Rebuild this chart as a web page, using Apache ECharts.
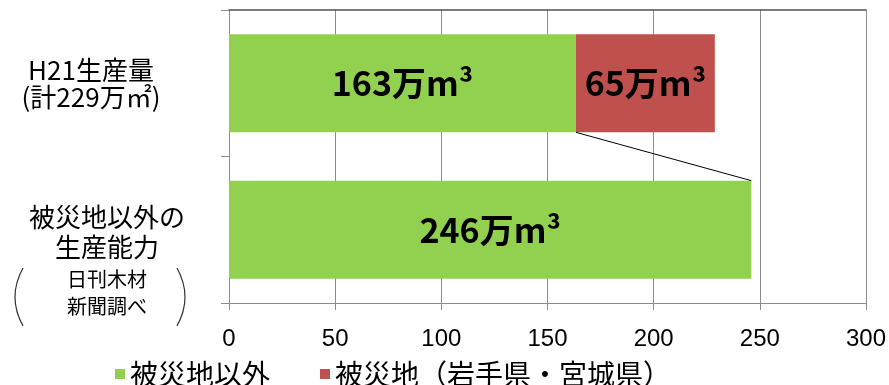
<!DOCTYPE html>
<html>
<head>
<meta charset="utf-8">
<script src="https://cdn.jsdelivr.net/npm/echarts@6/dist/echarts.min.js"></script>
<style>
  html, body { margin: 0; padding: 0; background: #fff; }
  #main { width: 889px; height: 385px; }
</style>
</head>
<body>
<div id="main"></div>
<script type="text/javascript">
	// データ
	var categories = ['H21生産量\n(計229万㎡)', '被災地以外の\n生産能力'];
	var noteLines = ['日刊木材', '新聞調べ'];
	var otherArea = [163.4, 246];     // 被災地以外
	var disasterArea = [65.4, '-'];   // 被災地（岩手県・宮城県）
	var seriesNames = ['被災地以外', '被災地（岩手県・宮城県）'];
	// 被災地以外の端 → 下の棒の端を結ぶ線
	var connector = [[163.4, 0, 246, 1]];
	var xTicks = [0, 50, 100, 150, 200, 250, 300];

	var CJK = '"Noto Sans CJK JP", sans-serif';
	var gapRatio = 0.33;

	var myChart = echarts.init(document.getElementById('main'));

	function barLabel(p) {
		return Math.round(p.value) + '万m³';
	}

	myChart.setOption({
		animation: false,
		grid: { left: 229, right: 23, top: 10, bottom: 82, containLabel: false, outerBoundsMode: 'none' },
		legend: {
			data: seriesNames,
			left: 110,
			top: 355,
			icon: 'rect',
			itemWidth: 10,
			itemHeight: 10,
			itemGap: 50,
			textStyle: { fontFamily: CJK, fontSize: 28, color: '#000' }
		},
		xAxis: [{
			type: 'value',
			min: xTicks[0],
			max: xTicks[xTicks.length - 1],
			interval: 50,
			axisLine: { show: true, lineStyle: { color: '#8c8c8c' } },
			axisTick: { show: true, length: 7, lineStyle: { color: '#8c8c8c' } },
			axisLabel: { fontFamily: 'Liberation Sans', fontSize: 24, color: '#000', margin: 24 },
			splitLine: { show: true, lineStyle: { color: '#8c8c8c', width: 1 } }
		}, {
			// 上枠
			type: 'value',
			position: 'top',
			min: xTicks[0],
			max: xTicks[xTicks.length - 1],
			axisLine: { show: true, lineStyle: { color: '#505050', width: 1.5 } },
			axisTick: { show: false },
			axisLabel: { show: false },
			splitLine: { show: false }
		}],
		yAxis: {
			type: 'category',
			inverse: true,
			data: [
				{ value: categories[0], textStyle: { padding: [0, 16, 0, 0] } },
				{ value: categories[1], textStyle: { padding: [59, 0, 0, 0] } }
			],
			axisLine: { show: true, lineStyle: { color: '#8c8c8c' } },
			axisTick: { show: true, length: 8, lineStyle: { color: '#8c8c8c' } },
			axisLabel: {
				align: 'right',
				margin: 22,
				formatter: function (value, index) {
					var lines = value.split('\n');
					if (index === 0) {
						return lines.map(function (l) { return '{a|' + l + '}'; }).join('\n');
					}
					var out = lines.map(function (l) { return '{b|' + l + '}'; });
					out.push('{s1|' + noteLines[0] + '}');
					out.push('{s2|' + noteLines[1] + '}');
					return out.join('\n');
				},
				rich: {
					a: { fontFamily: CJK, fontSize: 26, lineHeight: 27, color: '#000', width: 200, align: 'center' },
					b: { fontFamily: CJK, fontSize: 26, lineHeight: 30, color: '#000', width: 200, align: 'center' },
					s1: { fontFamily: CJK, fontSize: 20, lineHeight: 34, color: '#000', width: 200, align: 'center' },
					s2: { fontFamily: CJK, fontSize: 20, lineHeight: 20, color: '#000', width: 200, align: 'center' }
				}
			}
		},
		graphic: [
			{ type: 'bezierCurve', shape: { x1: 23, y1: 268, x2: 23, y2: 326, cpx1: 7, cpy1: 297 },
			  style: { stroke: '#333', lineWidth: 1.2, fill: null } },
			{ type: 'bezierCurve', shape: { x1: 177, y1: 268, x2: 177, y2: 326, cpx1: 193, cpy1: 297 },
			  style: { stroke: '#333', lineWidth: 1.2, fill: null } }
		],
		series: [{
			name: seriesNames[0],
			type: 'bar',
			stack: 'total',
			barCategoryGap: (gapRatio * 100) + '%',
			itemStyle: { color: '#92d050' },
			label: {
				show: true,
				position: 'inside',
				formatter: barLabel,
				fontFamily: CJK,
				fontWeight: 'bold',
				fontSize: 34,
				color: '#000'
			},
			data: otherArea
		}, {
			name: seriesNames[1],
			type: 'bar',
			stack: 'total',
			itemStyle: { color: '#c0504d' },
			label: {
				show: true,
				position: 'inside',
				formatter: barLabel,
				fontFamily: CJK,
				fontWeight: 'bold',
				fontSize: 34,
				color: '#000'
			},
			data: disasterArea
		}, {
			type: 'custom',
			z: 5,
			encode: { x: [0, 2], y: [1, 3] },
			renderItem: function (params, api) {
				var p1 = api.coord([api.value(0), api.value(1)]);
				var p2 = api.coord([api.value(2), api.value(3)]);
				var half = api.size([0, 1])[1] * (1 - gapRatio) / 2;
				return {
					type: 'line',
					shape: { x1: p1[0], y1: p1[1] + half, x2: p2[0], y2: p2[1] - half },
					style: { stroke: '#000', lineWidth: 1 }
				};
			},
			data: connector
		}]
	});
</script>
</body>
</html>
